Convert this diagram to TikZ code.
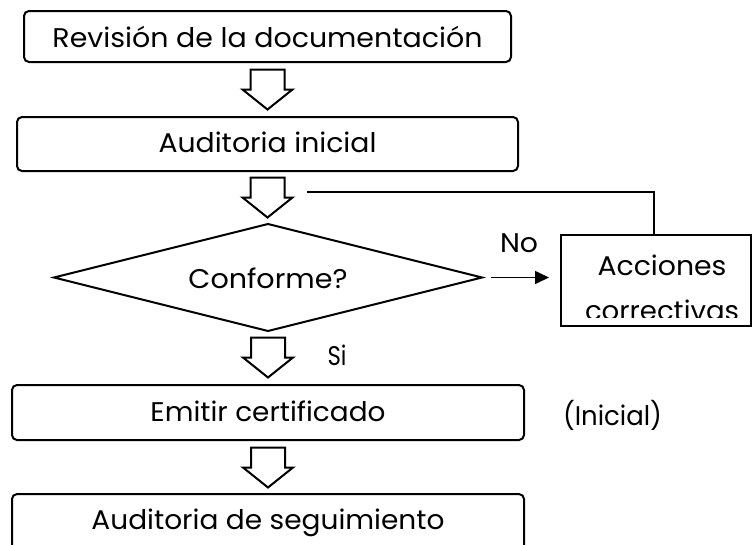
\documentclass[tikz,border=0pt]{standalone}
\usepackage{fontspec}
\setmainfont{Poppins}
\usetikzlibrary{shapes.geometric,arrows.meta,calc}
\newcommand\fitw[2]{\resizebox{#1pt}{\height}{#2}}
\tikzset{
  box/.style={draw, line width=2pt, rounded corners=5pt, inner sep=0pt, outer sep=0pt, text depth=0pt},
  plainbox/.style={draw, line width=2pt, inner sep=0pt, outer sep=0pt},
  lbl/.style={anchor=base, inner sep=0pt},
  thin/.style={line width=1.6pt},
  bigdown/.pic={\draw[line width=2pt, line join=miter]
     (-17,0) -- (17,0) -- (17,20) -- (25,20) -- (0,40) -- (-25,20) -- (-17,20) -- cycle;}
}
\begin{document}
\begin{tikzpicture}[x=1pt,y=-1pt,font=\fontsize{27}{32}\selectfont]
\useasboundingbox (0,0) rectangle (752,544);
% boxes
\node[box, minimum width=487pt, minimum height=51pt, text height=21pt] (b1) at (267.5,36.5) {\fitw{430}{Revisión de la documentación}};
\node[box, minimum width=501pt, minimum height=54pt, text height=16pt] (b2) at (267.5,144) {\fitw{218}{Auditoria inicial}};
\node[draw, diamond, line width=2pt, minimum width=428pt, minimum height=107pt, inner sep=0pt, outer sep=0pt, aspect=4, text height=21pt, text depth=0pt] (dia) at (268,277.5) {\fitw{159}{Conforme?}};
\node[plainbox, minimum width=190pt, minimum height=91pt] (acc) at (656,280.5) {};
\begin{scope}
  \clip (562,236) rectangle (750,317.5);
  \node[lbl] (acc1) at (662,275) {\fitw{129}{Acciones}};
  \node[lbl] (acc2) at (662,320) {\fitw{154}{correctivas}};
\end{scope}
\node[box, minimum width=512pt, minimum height=55pt, text height=18.4pt] (b3) at (268,412.5) {\fitw{235}{Emitir certificado}};
\node[box, minimum width=512pt, minimum height=56pt, text height=14pt] (b4) at (268,522) {\fitw{353}{Auditoria de seguimiento}};
% block arrows
\pic at ($(b1.south)+(0,7.5)$) {bigdown};
\pic at ($(b2.south)+(0,6.5)$) {bigdown};
\pic at ($(dia.south)+(0,6.5)$) {bigdown};
\pic at ($(b3.south)+(0,7.5)$) {bigdown};
% no branch
\draw[thin, -{Triangle[length=14pt,width=13pt]}, shorten <=9pt, shorten >=12pt] (dia.east) -- (dia.east -| acc.west);
\coordinate (loop) at (307,192);
\draw[thin] (loop) -| ($(acc.north)+(-2,0)$);
% labels
\node[lbl] (no) at (519,252) {\fitw{38}{No}};
\node[lbl] (si) at (337,365) {\fitw{19}{Si}};
\node[lbl] (ini) at (612.5,425) {\fitw{99}{(Inicial)}};
\end{tikzpicture}
\end{document}
